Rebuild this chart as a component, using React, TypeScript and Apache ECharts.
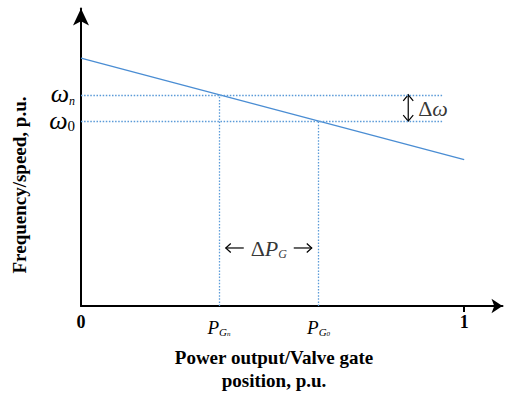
import React, { useEffect, useRef } from "react";
import * as echarts from "echarts";

// ---- data ----
const xRange = [0, 1.1];
const yRange = [0, 1.2];
const droopX = [0, 1];
const droopY = [1.0, 0.59];
const omegaN = 0.852;
const omega0 = 0.746;
const pGn = 0.36;
const pG0 = 0.62;
const refLineEndX = 0.945;
const deltaOmegaArrowX = 0.854;
const deltaOmegaTextX = 0.88;
const deltaPY = 0.234;
const xTickValues = [0, pGn, pG0, 1];
const xTickLabels = ["0", "P_G_n", "P_G_0", "1"];
const yTickValues = [omega0, omegaN];
const yTickLabels = ["ω_0", "ω_n"];
const xTitle = "Power output/Valve gate\nposition, p.u.";
const yTitle = "Frequency/speed, p.u.";

const SERIF = "Liberation Serif";
const BLUE = "#4a8dd3";
const DOT_BLUE = "#5a9ad8";

function findIndex(vals: number[], v: number) {
  for (let i = 0; i < vals.length; i++) if (Math.abs(vals[i] - v) < 1e-6) return i;
  return -1;
}

function xLabelRich(label: string) {
  if (!label.includes("_")) return `{b|${label}}`;
  const [p, g, s] = label.split("_");
  return `{p|${p}}{g|${g}}{s|${s}}`;
}

function yLabelRich(label: string) {
  const [w, s] = label.split("_");
  const isDigit = /\d/.test(s);
  return `{w|${w}}{${isDigit ? "d" : "n"}|${s}}`;
}

export default function App() {
  const ref = useRef<HTMLDivElement>(null);
  useEffect(() => {
    if (!ref.current) return;
    const chart = echarts.init(ref.current, undefined, { renderer: "svg" });
    const dotted = { color: DOT_BLUE, width: 1.3, type: [1.5, 1.6] as any };
    chart.setOption({
      animation: false,
      textStyle: { fontFamily: SERIF },
      grid: { left: 81, right: 6.5, top: 8.5, bottom: 99 },
      xAxis: {
        type: "value",
        min: xRange[0],
        max: xRange[1],
        splitLine: { show: false },
        axisLine: {
          show: true,
          lineStyle: { color: "#000", width: 2 },
          symbol: ["none", "arrow"],
          symbolSize: [11, 11],
        },
        axisTick: {
          show: true,
          customValues: [1],
          length: 6,
          lineStyle: { color: "#000", width: 2 },
        },
        axisLabel: {
          customValues: xTickValues,
          margin: 7,
          fontFamily: SERIF,
          formatter: (v: number) => {
            const i = findIndex(xTickValues, v);
            return i < 0 ? "" : xLabelRich(xTickLabels[i]);
          },
          rich: {
            b: { fontFamily: SERIF, fontWeight: "bold", fontSize: 18, lineHeight: 18, color: "#000" },
            p: { fontFamily: SERIF, fontStyle: "italic", fontSize: 19, lineHeight: 24, verticalAlign: "bottom", color: "#000" },
            g: { fontFamily: SERIF, fontStyle: "italic", fontSize: 11, lineHeight: 13, verticalAlign: "bottom", color: "#000" },
            s: { fontFamily: SERIF, fontStyle: "italic", fontSize: 7, lineHeight: 6, verticalAlign: "bottom", color: "#000" },
          },
        },
      },
      yAxis: {
        type: "value",
        min: yRange[0],
        max: yRange[1],
        splitLine: { show: false },
        axisLine: {
          show: true,
          lineStyle: { color: "#000", width: 2 },
          symbol: ["none", "arrow"],
          symbolSize: [12, 17],
        },
        axisTick: { show: false },
        axisLabel: {
          customValues: yTickValues,
          margin: 6,
          fontFamily: SERIF,
          formatter: (v: number) => {
            const i = findIndex(yTickValues, v);
            return i < 0 ? "" : yLabelRich(yTickLabels[i]);
          },
          rich: {
            w: { fontFamily: SERIF, fontStyle: "italic", fontSize: 26, lineHeight: 24, verticalAlign: "bottom", color: "#000" },
            n: { fontFamily: SERIF, fontStyle: "italic", fontSize: 12, lineHeight: 7, verticalAlign: "bottom", color: "#000" },
            d: { fontFamily: SERIF, fontSize: 15, lineHeight: 8, verticalAlign: "bottom", color: "#000" },
          },
        },
      },
      series: [
        {
          type: "line",
          data: droopX.map((x, i) => [x, droopY[i]]),
          symbol: "none",
          lineStyle: { color: BLUE, width: 1.3 },
          silent: true,
          markLine: {
            silent: true,
            symbol: "none",
            label: { show: false },
            lineStyle: dotted,
            data: [
              [{ coord: [0, omegaN] }, { coord: [refLineEndX, omegaN] }],
              [{ coord: [0, omega0] }, { coord: [refLineEndX, omega0] }],
              [{ coord: [pGn, 0] }, { coord: [pGn, omegaN] }],
              [{ coord: [pG0, 0] }, { coord: [pG0, omega0] }],
            ],
          },
        },
        {
          type: "custom",
          silent: true,
          data: [[deltaOmegaArrowX, omegaN, omega0, (pGn + pG0) / 2, deltaPY]],
          renderItem: (params: any, api: any) => {
            const x = api.value(0);
            const top = api.coord([x, api.value(1)]);
            const bot = api.coord([x, api.value(2)]);
            const c = api.coord([api.value(3), api.value(4)]);
            const st = { stroke: "#000", lineWidth: 1.2, fill: "none" };
            const ay = c[1];
            const l1 = c[0] - 43, l2 = c[0] - 25;
            const r1 = c[0] + 25, r2 = c[0] + 43;
            return {
              type: "group",
              children: [
                { type: "line", shape: { x1: top[0], y1: top[1], x2: bot[0], y2: bot[1] }, style: st },
                {
                  type: "polyline",
                  shape: { points: [[top[0] - 5, top[1] + 6], [top[0], top[1]], [top[0] + 5, top[1] + 6]] },
                  style: st,
                },
                {
                  type: "polyline",
                  shape: { points: [[bot[0] - 5, bot[1] - 6], [bot[0], bot[1]], [bot[0] + 5, bot[1] - 6]] },
                  style: st,
                },
                { type: "line", shape: { x1: l1, y1: ay, x2: l2, y2: ay }, style: st },
                {
                  type: "polyline",
                  shape: { points: [[l1 + 5, ay - 4.5], [l1, ay], [l1 + 5, ay + 4.5]] },
                  style: st,
                },
                { type: "line", shape: { x1: r1, y1: ay, x2: r2, y2: ay }, style: st },
                {
                  type: "polyline",
                  shape: { points: [[r2 - 5, ay - 4.5], [r2, ay], [r2 - 5, ay + 4.5]] },
                  style: st,
                },
              ],
            };
          },
        },
        {
          type: "scatter",
          silent: true,
          symbolSize: 0,
          data: [
            {
              value: [deltaOmegaTextX, (omegaN + omega0) / 2],
              label: {
                show: true,
                position: "inside",
                align: "left",
                formatter: "{a|Δ}{i|ω}",
              },
            },
            {
              value: [(pGn + pG0) / 2, deltaPY],
              label: {
                show: true,
                position: "inside",
                align: "center",
                formatter: "{a|Δ}{i|P}{g|G}",
              },
            },
          ],
          label: {
            fontFamily: SERIF,
            rich: {
              a: { fontFamily: SERIF, fontSize: 22, lineHeight: 24, verticalAlign: "bottom", color: "#000" },
              i: { fontFamily: SERIF, fontStyle: "italic", fontSize: 22, lineHeight: 24, verticalAlign: "bottom", color: "#000" },
              g: { fontFamily: SERIF, fontStyle: "italic", fontSize: 12, lineHeight: 12, verticalAlign: "bottom", color: "#000" },
            },
          },
        },
      ],
      graphic: [
        {
          type: "text",
          x: 19,
          y: 185,
          rotation: Math.PI / 2,
          style: {
            text: yTitle,
            fontFamily: SERIF,
            fontWeight: "bold",
            fontSize: 19,
            fill: "#000",
            align: "center",
            verticalAlign: "middle",
          },
        },
        {
          type: "text",
          x: 274,
          y: 346,
          style: {
            text: xTitle,
            fontFamily: SERIF,
            fontWeight: "bold",
            fontSize: 19,
            lineHeight: 23,
            fill: "#000",
            align: "center",
            verticalAlign: "top",
          },
        },
      ],
    });
    return () => chart.dispose();
  }, []);
  return (
    <div
      ref={ref}
      style={{ position: "absolute", left: 0, top: 0, width: 509, height: 405, background: "#fff" }}
    />
  );
}
